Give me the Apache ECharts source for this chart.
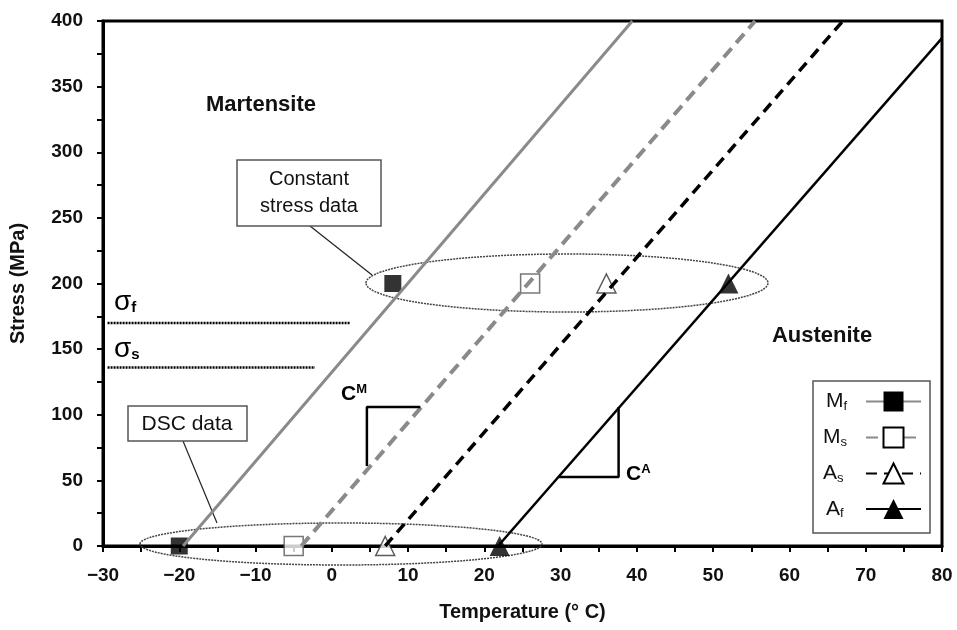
<!DOCTYPE html>
<html>
<head>
<meta charset="utf-8">
<script src="https://cdn.jsdelivr.net/npm/echarts@6/dist/echarts.min.js"></script>
<style>
  html, body { margin: 0; padding: 0; background: #fff; }
  #chart { width: 957px; height: 630px; }
</style>
</head>
<body>
<div id="chart"></div>
<script>
// transformation lines (temperature degC, stress MPa)
var mfLine = [[-19.5, 0], [39.4, 400]];
var msLine = [[-4, 0], [55.5, 400]];
var asLine = [[7, 0], [67, 400]];
var afLine = [[21.8, 0], [80, 387]];

// measured points: DSC (0 MPa) and constant stress (200 MPa)
var mfPoints = [[-20, 0], [8, 200]];
var msPoints = [[-5, 0], [26, 200]];
var asPoints = [[7, 0], [36, 200]];
var afPoints = [[22, 0], [52, 200]];

// critical stress levels
var sigmaF = [[-29.4, 170], [2.4, 170]];
var sigmaS = [[-29.4, 136], [-2.2, 136]];

// slope markers C^M and C^A
var slopeM = [[4.6, 61], [4.6, 106], [11.6, 106]];
var slopeA = [[29.8, 52.6], [37.6, 52.6], [37.6, 106]];

var FONT = '"Liberation Sans", Arial, sans-serif';
var GRAY = '#8a8a8a';

var legendRich = {
  m: { fontFamily: FONT, fontSize: 21, color: '#111', lineHeight: 22 },
  s: { fontFamily: FONT, fontSize: 13, color: '#111', verticalAlign: 'bottom', lineHeight: 13 },
  pm: { width: 14 },
  pa: { width: 17.5 }
};

var option = {
  backgroundColor: '#fff',
  animation: false,
  grid: {
    left: 103, right: 15, top: 21, bottom: 84,
    show: true, borderColor: '#000', borderWidth: 3,
    outerBoundsMode: 'none'
  },
  xAxis: {
    type: 'value', min: -30, max: 80, interval: 10,
    name: 'Temperature (\u00b0 C)', nameLocation: 'middle', nameGap: 56,
    nameTextStyle: { fontFamily: FONT, fontSize: 20, fontWeight: 'bold', color: '#111' },
    axisLine: { onZero: false, lineStyle: { color: '#000', width: 3 } },
    axisTick: { length: 6, lineStyle: { color: '#000', width: 2 } },
    minorTick: { show: true, splitNumber: 2, length: 6, lineStyle: { color: '#000', width: 2 } },
    splitLine: { show: false },
    axisLabel: {
      margin: 20, fontFamily: FONT, fontSize: 19, fontWeight: 'bold', color: '#111',
      formatter: function (v) { return String(v).replace('-', '\u2212'); }
    }
  },
  yAxis: {
    type: 'value', min: 0, max: 400, interval: 50,
    name: 'Stress (MPa)', nameLocation: 'middle', nameGap: 75, nameRotate: 90,
    nameTextStyle: { fontFamily: FONT, fontSize: 20, fontWeight: 'bold', color: '#111' },
    axisLine: { show: true, onZero: false, lineStyle: { color: '#000', width: 3 } },
    axisTick: { show: true, length: 6, lineStyle: { color: '#000', width: 2 } },
    minorTick: { show: true, splitNumber: 2, length: 6, lineStyle: { color: '#000', width: 2 } },
    splitLine: { show: false },
    axisLabel: { margin: 20, fontFamily: FONT, fontSize: 19, fontWeight: 'bold', color: '#111' }
  },
  legend: {
    data: ['Mf', 'Ms', 'As', 'Af'],
    orient: 'vertical', left: 813, top: 381,
    padding: [10, 8, 13, 10], itemGap: 14,
    itemWidth: 55, itemHeight: 25, align: 'right',
    borderColor: '#555', borderWidth: 1.5, backgroundColor: '#fff',
    selectedMode: false,
    formatter: function (name) {
      // wider pad after "A" so the text starts at the same x as "M"
      var pad = name[0] === 'A' ? '{pa|}' : '{pm|}';
      return '{m|' + name[0] + '}{s|' + name[1] + '}' + pad;
    },
    textStyle: { rich: legendRich }
  },
  series: [
    { type: 'scatter', z: 2, data: mfPoints, symbol: 'rect', symbolSize: 17, itemStyle: { color: '#000' } },
    { type: 'scatter', z: 2, data: msPoints, symbol: 'rect', symbolSize: 19,
      itemStyle: { color: '#fff', borderColor: '#555', borderWidth: 1.5 } },
    { type: 'scatter', z: 2, data: asPoints, symbol: 'triangle', symbolSize: 19,
      itemStyle: { color: '#fff', borderColor: '#333', borderWidth: 1.5 } },
    { type: 'scatter', z: 2, data: afPoints, symbol: 'triangle', symbolSize: 20, itemStyle: { color: '#000' } },

    { name: 'Mf', type: 'line', z: 3, data: mfLine, symbol: 'rect', showSymbol: false,
      itemStyle: { color: '#000' }, lineStyle: { color: GRAY, width: 3 } },
    { name: 'Ms', type: 'line', z: 3, data: msLine, symbol: 'emptyRect', showSymbol: false,
      itemStyle: { color: '#000' }, lineStyle: { color: GRAY, width: 4, type: [12, 7] } },
    { name: 'As', type: 'line', z: 3, data: asLine, symbol: 'emptyTriangle', showSymbol: false,
      itemStyle: { color: '#000' }, lineStyle: { color: '#000', width: 3.5, type: [11, 7] } },
    { name: 'Af', type: 'line', z: 3, data: afLine, symbol: 'triangle', showSymbol: false,
      itemStyle: { color: '#000' }, lineStyle: { color: '#000', width: 2.5 } },

    { type: 'line', z: 3, data: sigmaF, symbol: 'none', lineStyle: { color: '#000', width: 2.5, type: [2, 1] } },
    { type: 'line', z: 3, data: sigmaS, symbol: 'none', lineStyle: { color: '#000', width: 2.5, type: [2, 1] } },
    { type: 'line', z: 3, data: slopeM, symbol: 'none', lineStyle: { color: '#000', width: 2.5 } },
    { type: 'line', z: 3, data: slopeA, symbol: 'none', lineStyle: { color: '#000', width: 2.5 } }
  ],
  graphic: [
    // ellipses around data groups
    { type: 'ellipse', z: 1, shape: { cx: 567, cy: 283, rx: 201, ry: 29 },
      style: { fill: null, stroke: '#444', lineWidth: 1.5, lineDash: [2, 1] } },
    { type: 'ellipse', z: 1, shape: { cx: 341, cy: 544, rx: 201, ry: 21 },
      style: { fill: null, stroke: '#444', lineWidth: 1.5, lineDash: [2, 1] } },
    // callouts
    { type: 'line', z: 1, shape: { x1: 310, y1: 226, x2: 372, y2: 275 }, style: { stroke: '#222', lineWidth: 1.2 } },
    { type: 'line', z: 1, shape: { x1: 183, y1: 441, x2: 217, y2: 523 }, style: { stroke: '#222', lineWidth: 1.2 } },
    { type: 'rect', z: 5, shape: { x: 237, y: 160, width: 144, height: 66 },
      style: { fill: '#fff', stroke: '#555', lineWidth: 1.5 } },
    { type: 'text', z: 6, style: { text: 'Constant\nstress data', x: 309, y: 193, textAlign: 'center', textVerticalAlign: 'middle',
      font: '20px ' + FONT, fill: '#111', lineHeight: 27 } },
    { type: 'rect', z: 5, shape: { x: 128, y: 406, width: 119, height: 35 },
      style: { fill: '#fff', stroke: '#555', lineWidth: 1.5 } },
    { type: 'text', z: 6, style: { text: 'DSC data', x: 187, y: 424, textAlign: 'center', textVerticalAlign: 'middle',
      font: '21px ' + FONT, fill: '#111' } },
    // region labels
    { type: 'text', z: 6, style: { text: 'Martensite', x: 261, y: 105, textAlign: 'center', textVerticalAlign: 'middle',
      font: 'bold 22px ' + FONT, fill: '#111' } },
    { type: 'text', z: 6, style: { text: 'Austenite', x: 822, y: 336, textAlign: 'center', textVerticalAlign: 'middle',
      font: 'bold 22px ' + FONT, fill: '#111' } },
    // stress level labels
    { type: 'text', z: 6, style: { text: '{g|\u03c3}{s|f}', x: 114, y: 302, textVerticalAlign: 'middle',
      rich: { g: { fontFamily: FONT, fontSize: 28, color: '#111', lineHeight: 26 },
              s: { fontFamily: FONT, fontSize: 15, fontWeight: 'bold', color: '#111', verticalAlign: 'bottom', lineHeight: 14 } } } },
    { type: 'text', z: 6, style: { text: '{g|\u03c3}{s|s}', x: 114, y: 349, textVerticalAlign: 'middle',
      rich: { g: { fontFamily: FONT, fontSize: 28, color: '#111', lineHeight: 26 },
              s: { fontFamily: FONT, fontSize: 15, fontWeight: 'bold', color: '#111', verticalAlign: 'bottom', lineHeight: 14 } } } },
    // slope labels
    { type: 'text', z: 6, style: { text: '{c|C}{m|M}', x: 341, y: 394, textVerticalAlign: 'middle',
      rich: { c: { fontFamily: FONT, fontSize: 21, fontWeight: 'bold', color: '#111', lineHeight: 22 },
              m: { fontFamily: FONT, fontSize: 13, fontWeight: 'bold', color: '#111', verticalAlign: 'top', lineHeight: 13 } } } },
    { type: 'text', z: 6, style: { text: '{c|C}{m|A}', x: 626, y: 474, textVerticalAlign: 'middle',
      rich: { c: { fontFamily: FONT, fontSize: 21, fontWeight: 'bold', color: '#111', lineHeight: 22 },
              m: { fontFamily: FONT, fontSize: 13, fontWeight: 'bold', color: '#111', verticalAlign: 'top', lineHeight: 13 } } } }
  ]
};

var chart = echarts.init(document.getElementById('chart'), null, { renderer: 'canvas' });
chart.setOption(option);
</script>
</body>
</html>
